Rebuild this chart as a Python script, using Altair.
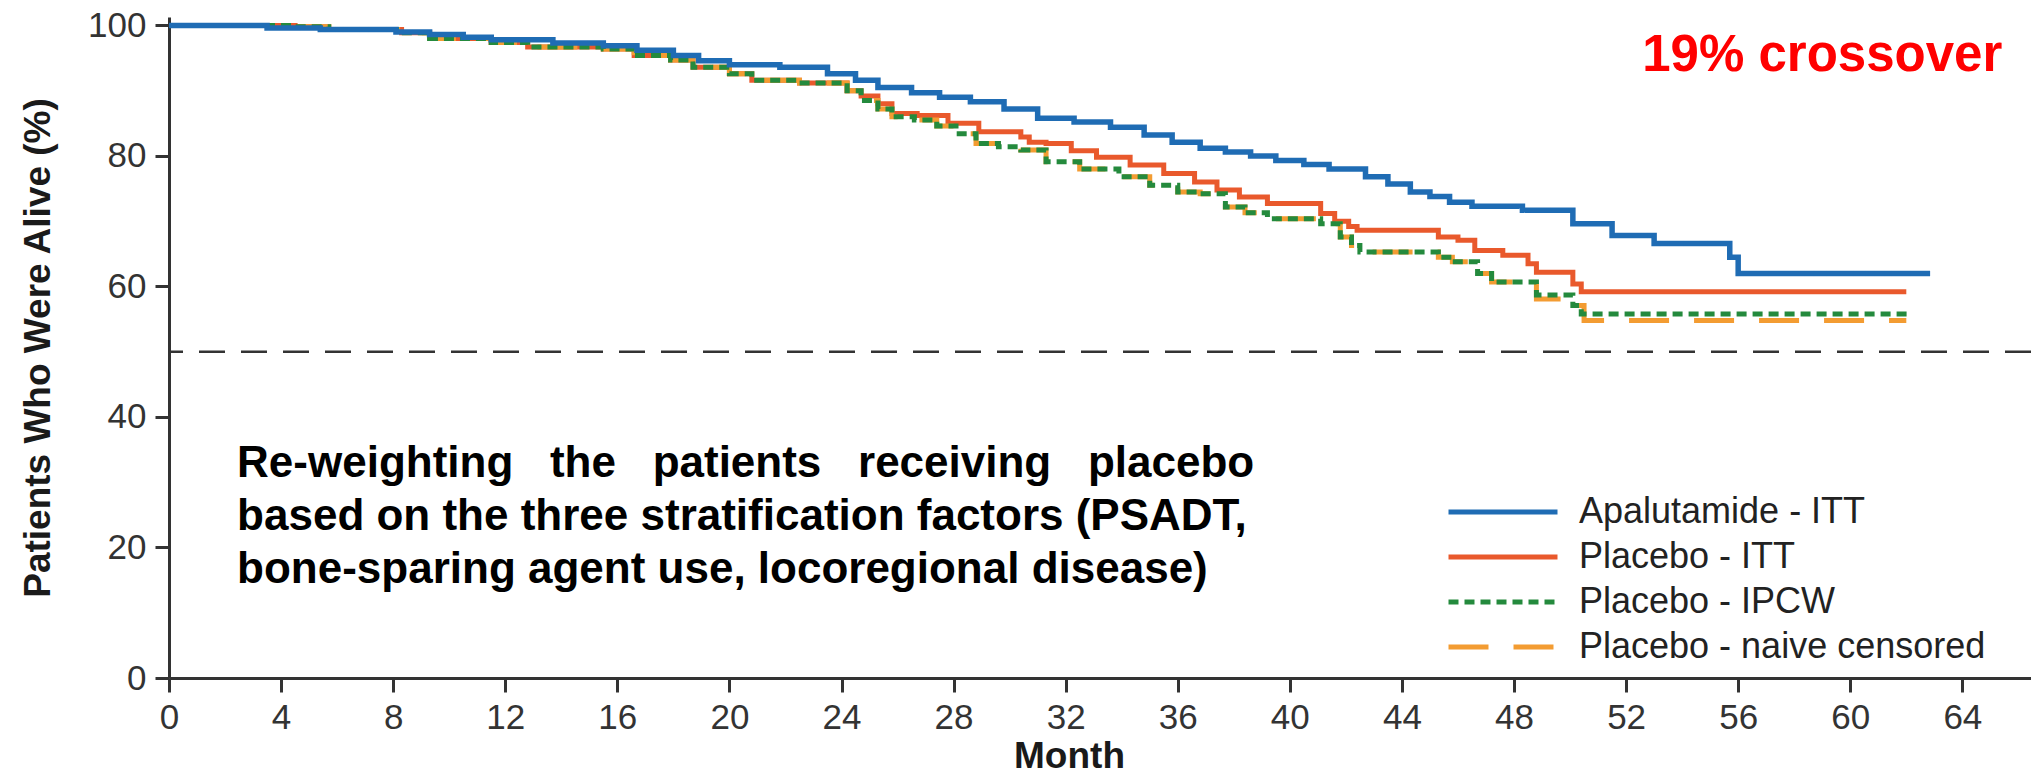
import altair as alt
import pandas as pd

# Kaplan-Meier style step curves: month at which each step starts, % alive after it
apa_month = [0, 3.5, 5.4, 8.1, 9.3, 10.5, 11.5, 13.7, 15.5, 16.7,
             18.0, 18.9, 20.0, 21.8, 23.5, 24.5, 25.3, 26.5, 27.5, 28.6,
             29.8, 31.0, 32.3, 33.6, 34.8, 35.8, 36.8, 37.7, 38.6, 39.5,
             40.5, 41.4, 42.7, 43.5, 44.3, 45.0, 45.7, 46.5, 48.3, 50.1,
             51.5, 53.0, 55.7, 56.0, 62.85]
apa_pct = [100, 99.6, 99.4, 99.0, 98.6, 98.2, 97.8, 97.3, 96.9, 96.2,
           95.4, 94.6, 94.0, 93.6, 92.6, 91.6, 90.5, 89.7, 89.0, 88.3,
           87.2, 85.8, 85.2, 84.4, 83.2, 82.1, 81.2, 80.6, 80.0, 79.3,
           78.7, 78.0, 76.8, 75.7, 74.5, 73.8, 72.9, 72.3, 71.7, 69.6,
           67.8, 66.6, 64.5, 62.0, 62.0]

itt_month = [0, 4.5, 5.7, 8.3, 9.3, 11.5, 12.8, 15.5, 16.6, 17.9,
             18.7, 20.0, 20.8, 22.5, 24.2, 24.7, 25.3, 25.8, 26.7, 27.8,
             28.9, 30.4, 30.7, 31.3, 32.2, 33.1, 34.3, 35.5, 36.6, 37.4,
             38.2, 39.2, 41.1, 41.6, 42.1, 42.4, 45.3, 46.0, 46.6, 47.6,
             48.5, 48.8, 50.1, 50.4, 62.0]
itt_pct = [100, 99.8, 99.4, 98.9, 98.0, 97.4, 96.7, 96.4, 95.4, 94.7,
           93.6, 92.6, 91.6, 91.2, 90.0, 89.2, 88.0, 86.5, 86.2, 85.0,
           83.7, 82.9, 82.1, 81.9, 80.8, 79.8, 78.6, 77.3, 76.0, 74.8,
           73.7, 72.7, 71.2, 70.0, 69.2, 68.6, 67.6, 67.1, 65.5, 64.8,
           63.5, 62.2, 60.4, 59.2, 59.2]

ipcw_month = [0, 4.5, 5.7, 8.3, 9.3, 11.5, 12.8, 15.5, 16.6, 17.9,
              18.7, 20.0, 20.8, 22.5, 24.2, 24.7, 25.3, 25.8, 26.6, 27.4,
              28.2, 28.8, 29.6, 30.4, 31.3, 32.5, 33.9, 35.0, 36.0, 36.8,
              37.7, 38.4, 39.2, 41.1, 41.8, 42.2, 42.5, 45.3, 45.8, 46.7,
              47.2, 48.8, 50.1, 50.4, 62.2]
ipcw_pct = [100, 99.8, 99.4, 98.9, 98.0, 97.4, 96.7, 96.4, 95.4, 94.7,
            93.6, 92.6, 91.6, 91.2, 90.0, 88.5, 87.2, 86.0, 85.5, 84.6,
            83.4, 81.9, 81.4, 80.9, 79.1, 78.0, 76.8, 75.5, 74.5, 74.2,
            72.2, 71.3, 70.4, 69.6, 67.6, 66.3, 65.3, 64.5, 63.8, 62.0,
            60.7, 58.7, 57.1, 55.8, 55.8]

nc_month = [0, 4.5, 5.7, 8.3, 9.3, 11.5, 12.8, 15.5, 16.6, 17.9,
            18.7, 20.0, 20.8, 22.5, 24.2, 24.7, 25.3, 25.8, 26.6, 27.4,
            28.2, 28.8, 29.6, 30.4, 31.3, 32.5, 33.9, 35.0, 36.0, 36.8,
            37.7, 38.4, 39.2, 41.1, 41.8, 42.2, 42.5, 45.3, 45.8, 46.7,
            47.2, 48.8, 50.1, 50.5, 62.0]
nc_pct = [100, 99.8, 99.4, 98.9, 98.0, 97.4, 96.7, 96.4, 95.4, 94.7,
          93.6, 92.6, 91.6, 91.2, 90.0, 88.5, 87.2, 86.0, 85.5, 84.6,
          83.4, 81.9, 81.4, 80.9, 79.1, 78.0, 76.8, 75.5, 74.5, 74.2,
          72.2, 71.3, 70.4, 69.6, 67.6, 66.3, 65.3, 64.5, 63.8, 62.0,
          60.7, 58.1, 57.1, 54.8, 54.8]

series_names = ["Apalutamide - ITT", "Placebo - ITT", "Placebo - IPCW",
                "Placebo - naive censored"]
series_colors = ["#1f6cb4", "#e9592c", "#248a3d", "#f39c32"]
series_dashes = [[1, 0], [1, 0], [10, 6], [40, 25]]

x_ticks = [0, 4, 8, 12, 16, 20, 24, 28, 32, 36, 40, 44, 48, 52, 56, 60, 64]
y_ticks = [0, 20, 40, 60, 80, 100]
reference_pct = [50]

NB3 = "\u00a0\u00a0\u00a0"
note_lines = [
    "Re-weighting" + NB3 + "the" + NB3 + "patients" + NB3 + "receiving" + NB3 + "placebo",
    "based on the three stratification factors (PSADT,",
    "bone-sparing agent use, locoregional disease)",
]
crossover_label = "19% crossover"

X_TITLE = "Month"
Y_TITLE = "Patients Who Were Alive (%)"
MONTH_MAX = 66.45
PCT_MAX = 101.3

frames = []
for name, months, pct in zip(series_names,
                             [apa_month, itt_month, ipcw_month, nc_month],
                             [apa_pct, itt_pct, ipcw_pct, nc_pct]):
    frames.append(pd.DataFrame({"month": months, "pct": pct, "series": name}))
curves = pd.concat(frames, ignore_index=True)

x_enc = alt.X(
    "month:Q",
    title=X_TITLE,
    scale=alt.Scale(domain=[0, MONTH_MAX], nice=False, zero=False),
    axis=alt.Axis(values=x_ticks, format="d", labelBaseline="alphabetic",
                  labelPadding=36, titleX=900, titleY=89,
                  titleBaseline="alphabetic"),
)
y_enc = alt.Y(
    "pct:Q",
    title=Y_TITLE,
    scale=alt.Scale(domain=[0, PCT_MAX], nice=False),
    axis=alt.Axis(values=y_ticks, format="d", labelPadding=9, titleX=-120,
                  titleBaseline="alphabetic"),
)

legend = alt.Legend(
    title=None, orient="none", legendX=1277, legendY=473, direction="vertical",
    symbolType="stroke", symbolSize=11881, symbolStrokeWidth=5,
    clipHeight=44, rowPadding=1, padding=0, labelOffset=19,
    labelFont="Liberation Sans", labelFontSize=36, labelColor="#222222",
    labelLimit=0,
)
color_enc = alt.Color("series:N", scale=alt.Scale(domain=series_names, range=series_colors),
                      legend=legend)
dash_enc = alt.StrokeDash("series:N", scale=alt.Scale(domain=series_names, range=series_dashes),
                          legend=legend)


def curve(name, width):
    return (
        alt.Chart(curves)
        .transform_filter(alt.datum.series == name)
        .mark_line(interpolate="step-after", strokeWidth=width)
        .encode(x=x_enc, y=y_enc, color=color_enc, strokeDash=dash_enc)
    )


reference = (
    alt.Chart(pd.DataFrame({"pct": reference_pct}))
    .mark_rule(color="#333333", strokeWidth=2.5, strokeDash=[26, 16])
    .encode(y=y_enc)
)

note = (
    alt.Chart(pd.DataFrame({"month": [2.43], "pct": [30.8]}))
    .mark_text(text=note_lines, align="left", baseline="alphabetic",
               font="Liberation Sans", fontWeight="bold", fontSize=44,
               lineHeight=53, color="#000000")
    .encode(x=x_enc, y=y_enc)
)

crossover = (
    alt.Chart(pd.DataFrame({"month": [59.0], "pct": [92.96]}))
    .mark_text(text=crossover_label, align="center", baseline="alphabetic",
               font="Liberation Sans", fontWeight="bold", fontSize=51,
               color="#ff0000")
    .encode(x=x_enc, y=y_enc)
)

chart = (
    alt.layer(
        reference,
        curve("Placebo - ITT", 5),
        curve("Placebo - naive censored", 5),
        curve("Placebo - IPCW", 5),
        curve("Apalutamide - ITT", 5.5),
        note,
        crossover,
    )
    .properties(
        width=1862, height=661,
        padding={"left": 169, "top": 17, "right": 0, "bottom": 97},
        autosize=alt.AutoSizeParams(type="none"),
        background="white",
    )
    .configure_view(stroke=None)
    .configure_axis(
        grid=False, domainColor="#333333", domainWidth=3, tickColor="#333333",
        tickWidth=3, tickSize=14, labelFont="Liberation Sans", labelFontSize=35,
        labelColor="#333333", labelFlush=False, labelOverlap=False,
        titleFont="Liberation Sans", titleFontSize=37, titleFontWeight="bold",
        titleColor="#1a1a1a",
    )
)

chart.save("out.html", embed_options={"renderer": "svg", "actions": False})
